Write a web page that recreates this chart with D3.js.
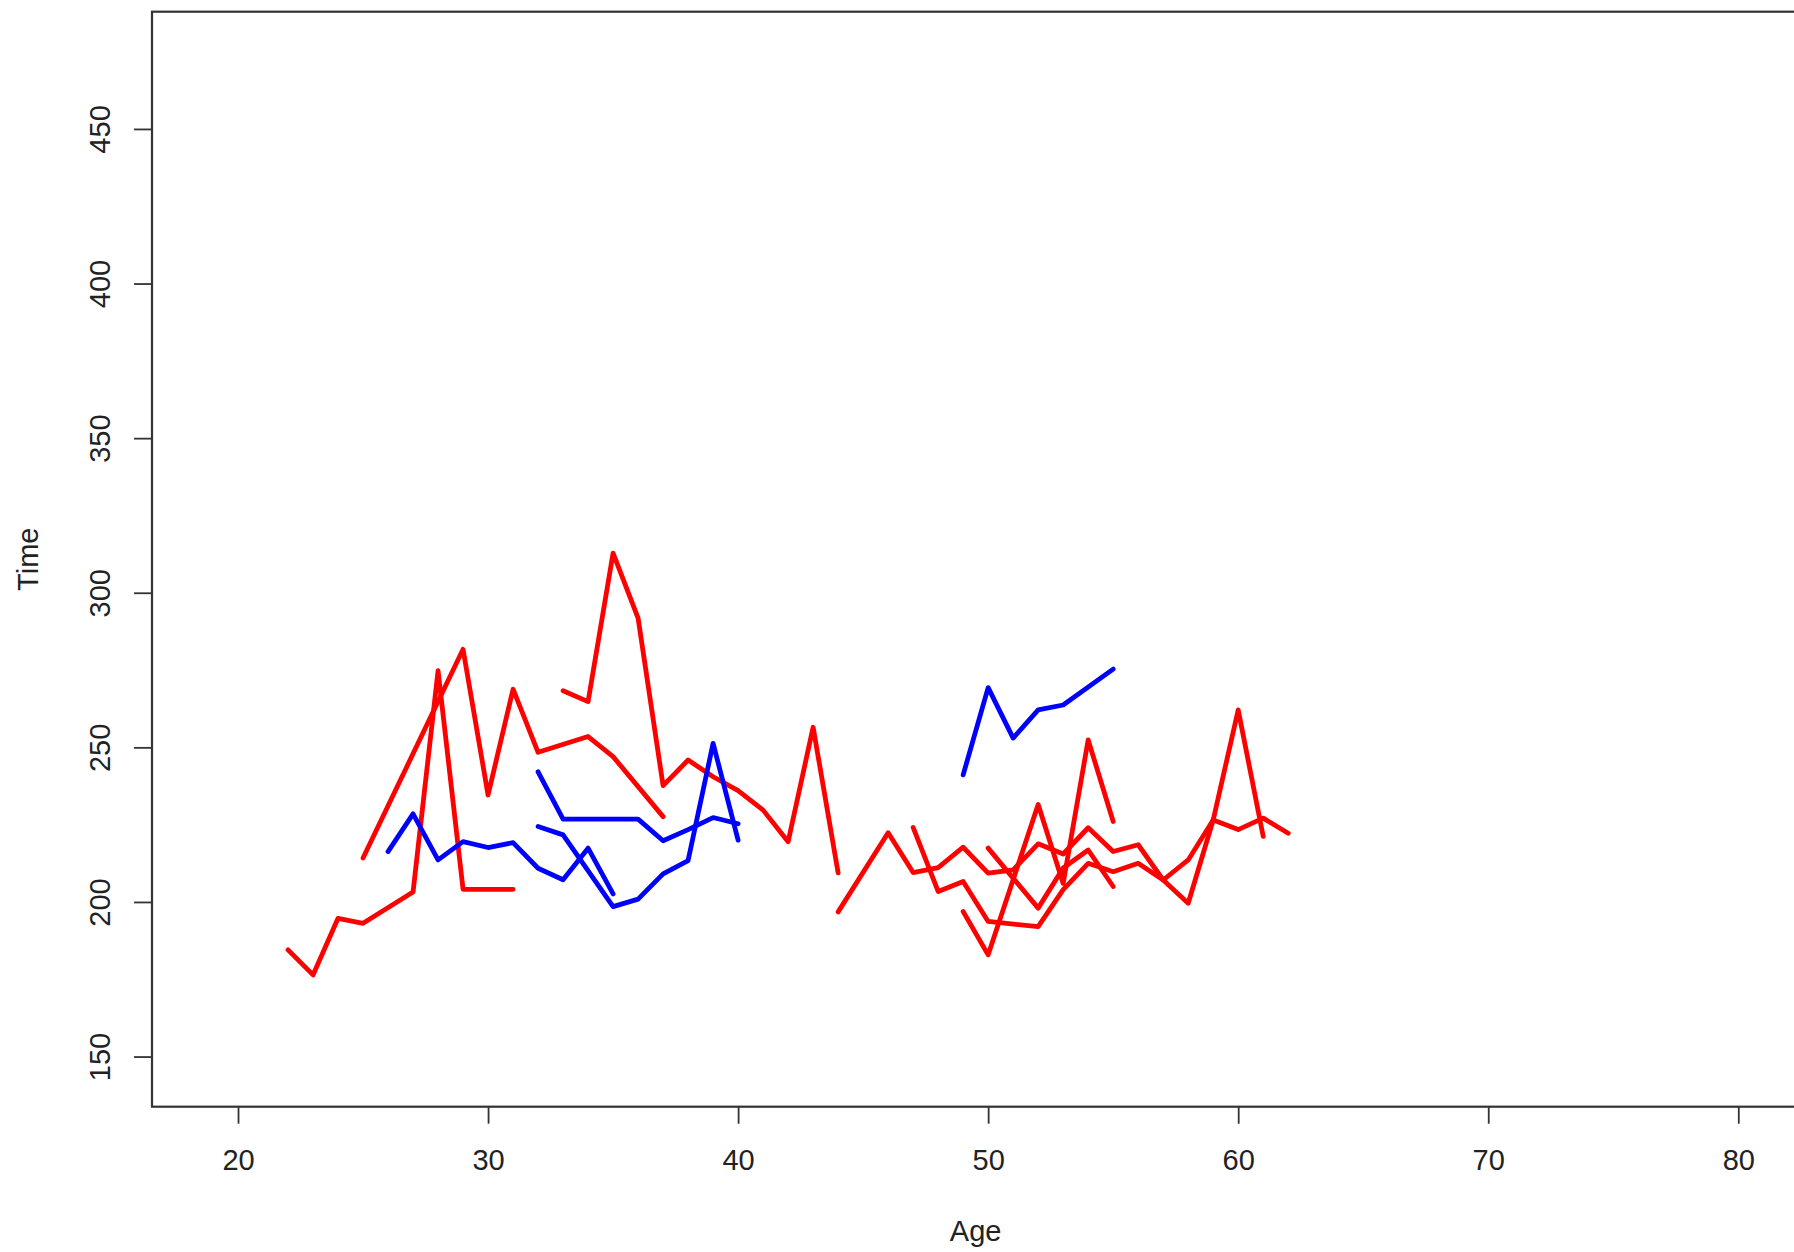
<!DOCTYPE html>
<html>
<head>
<meta charset="utf-8">
<script src="https://cdn.jsdelivr.net/npm/d3@7"></script>
<style>
  html, body { margin: 0; padding: 0; background: #ffffff; }
  svg { display: block; }
  text { font-family: "Liberation Sans", Arial, Helvetica, sans-serif; fill: #222; }
</style>
</head>
<body>
<svg id="chart" width="1794" height="1252"></svg>
<script>
// ---- Data ----
// Axis limits and ticks
const xLimits = [19, 80];
const yLimits = [146.9, 474.8];
const xTicks = [20, 30, 40, 50, 60, 70, 80];
const yTicks = [150, 200, 250, 300, 350, 400, 450];
const xTitle = "Age";
const yTitle = "Time";

// Red group (one polyline per individual)
const ageR1 = [22, 23, 24, 25, 27, 28, 29, 31];
const timeR1 = [184.5, 176.4, 194.7, 193.1, 203.2, 274.8, 204.1, 204.1];

const ageR2 = [25, 29, 30, 31, 32, 34, 35, 37];
const timeR2 = [214.2, 281.7, 234.6, 268.8, 248.4, 253.5, 247.0, 227.6];

const ageR3 = [33, 34, 35, 36, 37, 38, 39, 40, 41, 42, 43, 44];
const timeR3 = [268.3, 264.8, 312.8, 291.8, 237.6, 245.9, 240.5, 236.0, 229.7, 219.5, 256.5, 209.4];

const ageR4 = [44, 46, 47, 48, 49, 50, 51, 52, 53, 54, 55, 56, 57, 58, 59, 60, 61];
const timeR4 = [196.8, 222.4, 209.5, 211.1, 217.7, 209.3, 210.4, 218.8, 215.5, 224.0, 216.3, 218.5, 207.1, 199.6, 226.5, 262.1, 221.2];

const ageR5 = [47, 48, 49, 50, 52, 53, 54, 55, 56, 57, 58, 59, 60, 61, 62];
const timeR5 = [224.1, 203.4, 206.6, 193.7, 192.0, 204.0, 212.5, 209.8, 212.5, 207.1, 213.6, 226.5, 223.4, 227.1, 222.2];

const ageR6 = [49, 50, 52, 53, 54, 55];
const timeR6 = [196.9, 182.9, 231.5, 206.0, 252.4, 226.0];

const ageR7 = [50, 52, 53, 54, 55];
const timeR7 = [217.4, 198.0, 211.0, 216.8, 205.0];

// Blue group
const ageB1 = [26, 27, 28, 29, 30, 31, 32, 33, 34, 35];
const timeB1 = [216.3, 228.5, 213.6, 219.5, 217.6, 219.2, 210.9, 207.2, 217.4, 202.6];

const ageB2 = [32, 33, 35, 36, 37, 38, 39, 40];
const timeB2 = [224.4, 221.7, 198.5, 200.9, 209.1, 213.4, 251.3, 220.0];

const ageB3 = [32, 33, 36, 37, 38, 39, 40];
const timeB3 = [242.1, 226.8, 226.8, 219.8, 223.4, 227.3, 225.3];

const ageB4 = [49, 50, 51, 52, 53, 55];
const timeB4 = [241.1, 269.3, 253.0, 262.1, 263.7, 275.3];

const redAges = [ageR1, ageR2, ageR3, ageR4, ageR5, ageR6, ageR7];
const redTimes = [timeR1, timeR2, timeR3, timeR4, timeR5, timeR6, timeR7];
const blueAges = [ageB1, ageB2, ageB3, ageB4];
const blueTimes = [timeB1, timeB2, timeB3, timeB4];

// ---- Layout ----
const plotLeft = 152, plotTop = 11.7, plotBottom = 1106.7, plotRight = 1799.3;
const ext = 0.04;
const xSpan = xLimits[1] - xLimits[0];
const ySpan = yLimits[1] - yLimits[0];

const x = d3.scaleLinear()
  .domain([xLimits[0] - ext * xSpan, xLimits[1] + ext * xSpan])
  .range([plotLeft, plotRight]);
const y = d3.scaleLinear()
  .domain([yLimits[0] - ext * ySpan, yLimits[1] + ext * ySpan])
  .range([plotBottom, plotTop]);

const svg = d3.select("#chart");

// lines
const line = d3.line().x(d => x(d[0])).y(d => y(d[1]));
const toPts = (a, t) => a.map((v, i) => [v, t[i]]);
const lineWidth = 4.8;

const gLines = svg.append("g");
redAges.forEach((a, i) => {
  gLines.append("path")
    .attr("d", line(toPts(a, redTimes[i])))
    .attr("fill", "none").attr("stroke", "#ff0000")
    .attr("stroke-width", lineWidth).attr("stroke-linejoin", "round").attr("stroke-linecap", "round");
});
blueAges.forEach((a, i) => {
  gLines.append("path")
    .attr("d", line(toPts(a, blueTimes[i])))
    .attr("fill", "none").attr("stroke", "#0000ff")
    .attr("stroke-width", lineWidth).attr("stroke-linejoin", "round").attr("stroke-linecap", "round");
});

// box
svg.append("rect")
  .attr("x", plotLeft).attr("y", plotTop)
  .attr("width", plotRight - plotLeft).attr("height", plotBottom - plotTop)
  .attr("fill", "none").attr("stroke", "#333").attr("stroke-width", 2.2);

// x axis
const xAxis = svg.append("g")
  .attr("transform", `translate(0,${plotBottom})`)
  .call(d3.axisBottom(x).tickValues(xTicks).tickSize(17).tickPadding(0).tickFormat(d3.format("d")));
xAxis.select(".domain").remove();
xAxis.selectAll(".tick line").attr("stroke", "#333").attr("stroke-width", 1.8);
xAxis.selectAll(".tick text")
  .attr("y", 63).attr("dy", null)
  .style("font-size", "29px").attr("fill", "#222");

// y axis
const yAxis = svg.append("g")
  .attr("transform", `translate(${plotLeft},0)`)
  .call(d3.axisLeft(y).tickValues(yTicks).tickSize(18).tickFormat(d3.format("d")));
yAxis.select(".domain").remove();
yAxis.selectAll(".tick line").attr("stroke", "#333").attr("stroke-width", 1.8);
yAxis.selectAll(".tick text")
  .attr("x", null).attr("dy", null)
  .attr("text-anchor", "middle")
  .attr("transform", `translate(${110 - plotLeft},0) rotate(-90)`)
  .style("font-size", "29px").attr("fill", "#222");

// titles
svg.append("text")
  .attr("x", (plotLeft + plotRight) / 2).attr("y", 1241)
  .attr("text-anchor", "middle").style("font-size", "29px")
  .text(xTitle);
svg.append("text")
  .attr("transform", `translate(38,${(plotTop + plotBottom) / 2}) rotate(-90)`)
  .attr("text-anchor", "middle").style("font-size", "29px")
  .text(yTitle);
</script>
</body>
</html>
